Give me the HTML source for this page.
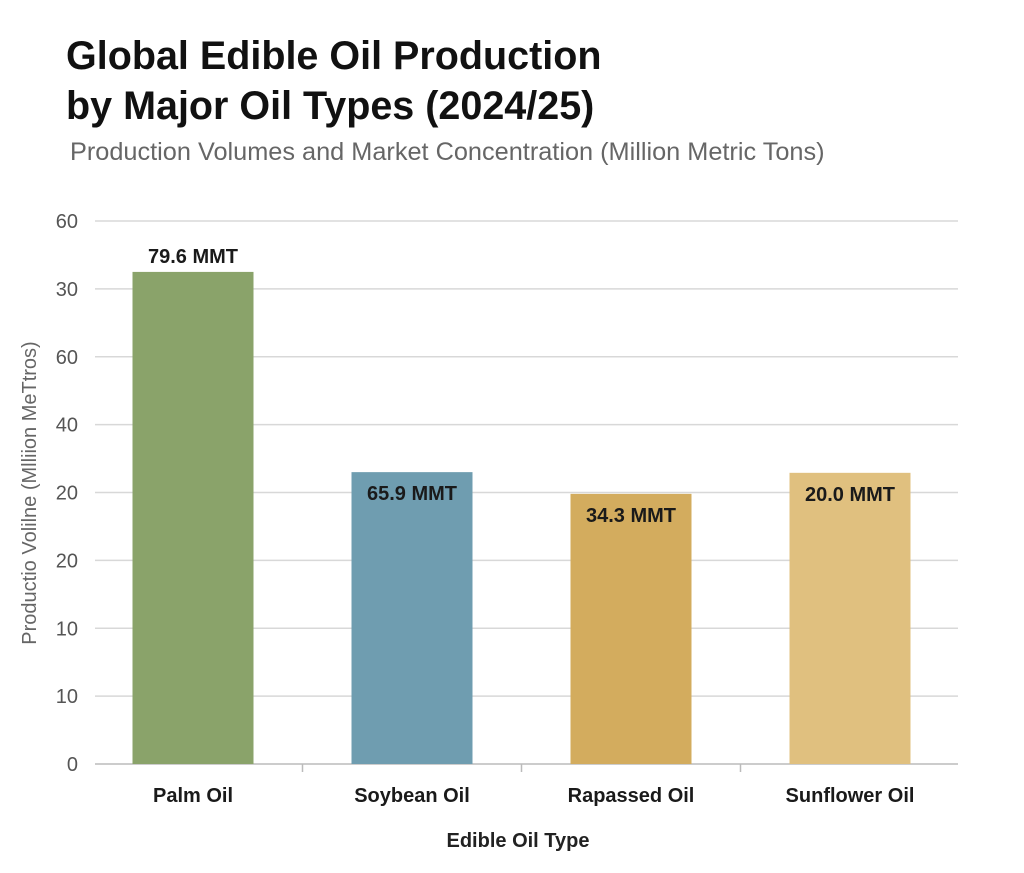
<!DOCTYPE html>
<html><head><meta charset="utf-8"><style>
body{margin:0;background:#fff;}
svg{display:block;font-family:"Liberation Sans",Arial,sans-serif;}
</style></head><body>
<svg id="chart" width="1024" height="873" viewBox="0 0 1024 873">
<text x="66" y="69" font-size="39.5" font-weight="bold" fill="#111">Global Edible Oil Production</text>
<text x="66" y="119" font-size="39.5" font-weight="bold" fill="#111">by Major Oil Types (2024/25)</text>
<text x="70" y="160" font-size="25.3" fill="#666">Production Volumes and Market Concentration (Million Metric Tons)</text>
<g id="grid"></g><g id="bars"></g><g id="labels"></g>
<text transform="translate(36,493) rotate(-90)" text-anchor="middle" font-size="20" fill="#666">Productio Volilne (Mlliion MeTtros)</text>
<text x="518" y="847" text-anchor="middle" font-size="20" font-weight="bold" fill="#222">Edible Oil Type</text>
</svg>
<script>
const categories=["Palm Oil","Soybean Oil","Rapassed Oil","Sunflower Oil"];
const values=[72.5,43.0,39.8,42.9];
const valueLabels=["79.6 MMT","65.9 MMT","34.3 MMT","20.0 MMT"];
const tickValues=[0,10,20,30,40,50,60,70,80];
const tickLabels=["0","10","10","20","20","40","60","30","60"];
const colors=["#8aa36a","#6f9db0","#d3ac5e","#e0c07f"];
const NS="http://www.w3.org/2000/svg";
const x0=95,x1=958,yBase=764,yTop=221,yMax=80;
const y=v=>yBase-(v/yMax)*(yBase-yTop);
const band=219;
const xc=i=>193+band*i;
function mk(tag,attrs,parent,text){const e=document.createElementNS(NS,tag);for(const k in attrs)e.setAttribute(k,attrs[k]);if(text!==undefined)e.textContent=text;parent.appendChild(e);return e;}
const grid=document.getElementById('grid'),bars=document.getElementById('bars'),labels=document.getElementById('labels');
tickValues.forEach((t,i)=>{
  const l=mk('line',{x1:x0,x2:x1,y1:y(t),y2:y(t),stroke:i===0?'#bbb':'#d8d8d8','stroke-width':1.5},grid);
  
  
  const tx=mk('text',{x:78,y:y(t)+7,'text-anchor':'end','font-size':20,fill:'#555'},grid,tickLabels[i]);
  
  
});
for(let i=1;i<categories.length;i++){
  const xm=xc(i)-band/2;
  const tk=mk('line',{x1:xm,x2:xm,y1:yBase,y2:yBase+8,stroke:'#bbb','stroke-width':1.5},grid);
  
  
}
const bw=121;
categories.forEach((c,i)=>{
  const top=y(values[i]);
  const r=mk('rect',{x:xc(i)-bw/2,y:top,width:bw,height:yBase-top,fill:colors[i]},bars);
  
  
  const vy=i===0?top-9:top+28;
  const vl=mk('text',{x:xc(i),y:vy,'text-anchor':'middle','font-size':20,'font-weight':'bold',fill:'#1a1a1a'},labels,valueLabels[i]);
  
  
  const cl=mk('text',{x:xc(i),y:802,'text-anchor':'middle','font-size':20,'font-weight':'bold',fill:'#1a1a1a'},labels,c);
  
  
});
</script>
</body></html>
